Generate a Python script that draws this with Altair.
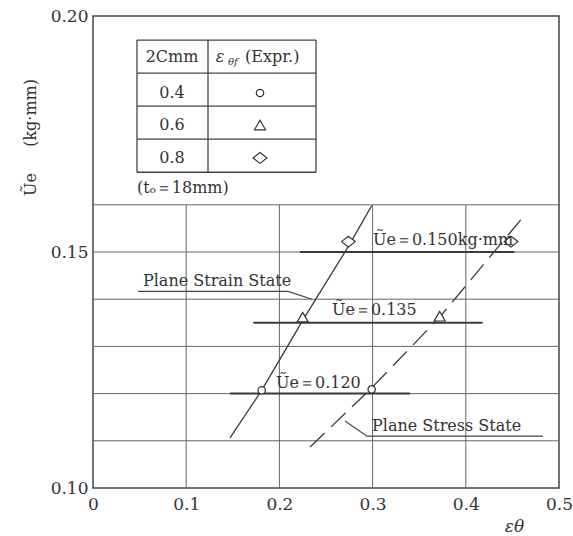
import altair as alt
import pandas as pd

# ---------------- data ----------------
x_ticks = [0, 0.1, 0.2, 0.3, 0.4, 0.5]
y_ticks = [0.10, 0.15, 0.20]
grid_y = [0.11, 0.12, 0.13, 0.14, 0.15, 0.16]
grid_x = [0.1, 0.2, 0.3, 0.4]

two_c_mm = ["0.4", "0.6", "0.8"]
ue_levels = [0.120, 0.135, 0.150]
level_x_start = [0.147, 0.172, 0.222]
level_x_end = [0.340, 0.418, 0.452]

# Plane strain state (solid line)
strain_line_x = [0.147, 0.181, 0.225, 0.275, 0.299]
strain_line_y = [0.1106, 0.1207, 0.1355, 0.1515, 0.1598]
strain_pt_x = [0.181, 0.225, 0.274]
strain_pt_y = [0.1207, 0.1362, 0.1522]

# Plane stress state (dashed line)
stress_line_x = [0.233, 0.299, 0.372, 0.461]
stress_line_y = [0.1087, 0.1212, 0.1362, 0.1573]
stress_pt_x = [0.299, 0.372, 0.4485]
stress_pt_y = [0.1209, 0.1364, 0.1522]

# legend table (in data units)
table_rows_y = [0.1949, 0.1879, 0.1809, 0.1739, 0.1669]
table_cols_x = [0.0472, 0.1234, 0.2393]
table_text_y = [0.18369, 0.17691, 0.16992]
table_col1_x = 0.0848
table_col2_x = 0.1792

FONT = "DejaVu Serif"
INK = "#333333"

xs = alt.Scale(domain=[0, 0.5], nice=False, zero=False)
ys = alt.Scale(domain=[0.10, 0.20], nice=False, zero=False)

x_axis = alt.Axis(
    values=x_ticks, format=".1~f", ticks=False, tickSize=0, domain=False,
    grid=False, labelFont=FONT, labelFontSize=17, labelColor=INK,
    labelPadding=8, labelFlush=False,
    title="εθ", titleFont=FONT, titleFontStyle="italic", titleFontWeight="normal",
    titleFontSize=17, titleColor=INK, titleX=421, titleY=38,
    titleAlign="center", titleBaseline="middle",
)
y_axis = alt.Axis(
    values=y_ticks, format=".2f", ticks=False, tickSize=0, domain=False,
    grid=False, labelFont=FONT, labelFontSize=17, labelColor=INK,
    labelPadding=5, labelFlush=False,
    title="Ũe\u2003\u00a0\u00a0(kg·mm)", titleFont=FONT, titleFontWeight="normal",
    titleFontSize=16, titleColor=INK, titleAngle=270, titleX=-63, titleY=121,
    titleAlign="center", titleBaseline="middle",
)


def X(f):
    return alt.X(f, type="quantitative", scale=xs, axis=x_axis)


def Y(f):
    return alt.Y(f, type="quantitative", scale=ys, axis=y_axis)


# ---------------- grid ----------------
grid_h = alt.Chart(pd.DataFrame({"y": grid_y, "x0": 0.0, "x1": 0.5})).mark_rule(
    color="#666666", strokeWidth=1
).encode(x=X("x0"), x2="x1:Q", y=Y("y"))

grid_v = alt.Chart(pd.DataFrame({"x": grid_x, "y0": 0.10, "y1": 0.16})).mark_rule(
    color="#666666", strokeWidth=1
).encode(x=X("x"), y=Y("y0"), y2="y1:Q")

# ---------------- table ----------------
table_h = alt.Chart(
    pd.DataFrame({"y": table_rows_y, "x0": table_cols_x[0], "x1": table_cols_x[-1]})
).mark_rule(color="#444444", strokeWidth=1.3).encode(x=X("x0"), x2="x1:Q", y=Y("y"))

table_v = alt.Chart(
    pd.DataFrame({"x": table_cols_x, "y0": table_rows_y[-1], "y1": table_rows_y[0]})
).mark_rule(color="#444444", strokeWidth=1.3).encode(x=X("x"), y=Y("y0"), y2="y1:Q")

# ---------------- level lines ----------------
levels = alt.Chart(
    pd.DataFrame({"y": ue_levels, "x0": level_x_start, "x1": level_x_end})
).mark_rule(color="#3a3a3a", strokeWidth=2).encode(x=X("x0"), x2="x1:Q", y=Y("y"))

# ---------------- state lines ----------------
strain_line = alt.Chart(
    pd.DataFrame({"x": strain_line_x, "y": strain_line_y})
).mark_line(color="#3a3a3a", strokeWidth=1.3).encode(x=X("x"), y=Y("y"))

stress_line = alt.Chart(
    pd.DataFrame({"x": stress_line_x, "y": stress_line_y})
).mark_line(color="#3a3a3a", strokeWidth=1.3, strokeDash=[20, 9]).encode(x=X("x"), y=Y("y"))

# leader lines for the labels
leaders = alt.Chart(
    pd.DataFrame(
        {
            "g": ["a", "a", "a", "b", "b", "b"],
            "x": [0.0483, 0.2092, 0.235, 0.2704, 0.294, 0.4828],
            "y": [0.14165, 0.14165, 0.1400, 0.1142, 0.1110, 0.1110],
        }
    )
).mark_line(color="#444444", strokeWidth=1.1).encode(x=X("x"), y=Y("y"), detail="g:N")

# ---------------- markers ----------------
shape_scale = alt.Scale(
    domain=two_c_mm,
    range=["circle", "triangle-up", "M-1,0L0,-0.78L1,0L0,0.78Z"],
)
size_scale = alt.Scale(domain=two_c_mm, range=[55, 190, 260])

markers_df = pd.DataFrame(
    {
        "x": strain_pt_x + stress_pt_x + [table_col2_x] * 3,
        "y": strain_pt_y + stress_pt_y + table_text_y,
        "c": two_c_mm * 3,
    }
)
markers = alt.Chart(markers_df).mark_point(
    filled=True, fill="white", stroke=INK, strokeWidth=1.2, opacity=1
).encode(
    x=X("x"),
    y=Y("y"),
    shape=alt.Shape("c:N", scale=shape_scale, legend=None),
    size=alt.Size("c:O", scale=size_scale, legend=None),
)

# ---------------- texts ----------------
def texts(rows, align="left", size=16, style="normal", dy=0):
    df = pd.DataFrame(rows, columns=["x", "y", "t"])
    return alt.Chart(df).mark_text(
        align=align, baseline="middle", font=FONT, fontSize=size,
        fontStyle=style, color=INK, dy=dy,
    ).encode(x=X("x"), y=Y("y"), text="t:N")


labels_left = texts(
    [
        [0.0536, 0.14386, "Plane Strain State"],
        [0.2994, 0.11314, "Plane Stress State"],
        [0.1964, 0.12225, "Ũe＝0.120"],
        [0.2564, 0.13771, "Ũe＝0.135"],
        [0.3004, 0.15254, "Ũe＝0.150kg·mm"],
        [0.1631, 0.19131, "(Expr.)"],
        [0.0472, 0.16356, "(tₒ＝18mm)"],
    ]
)
labels_center = texts(
    [
        [table_col1_x, 0.19131, "2Cmm"],
        [table_col1_x, table_text_y[0], two_c_mm[0]],
        [table_col1_x, table_text_y[1], two_c_mm[1]],
        [table_col1_x, table_text_y[2], two_c_mm[2]],
    ],
    align="center",
)
eps = texts([[0.1363, 0.19131, "ε"]], align="center", size=16, style="italic")
eps_sub = texts([[0.1500, 0.19025, "θf"]], align="center", size=10, style="italic")

chart = alt.layer(
    grid_h, grid_v, table_h, table_v, levels, strain_line, stress_line, leaders,
    markers, labels_left, labels_center, eps, eps_sub,
).properties(
    width=466,
    height=472,
    padding={"left": 93, "top": 16, "right": 14, "bottom": 48},
    autosize=alt.AutoSizeParams(type="none"),
    background="white",
).configure_view(stroke="#444444", strokeWidth=1.5)

chart.save("out.html", embed_options={"renderer": "svg", "actions": False})
